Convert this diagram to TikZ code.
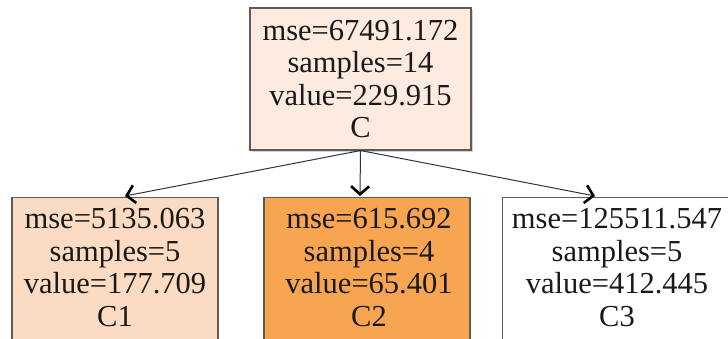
\documentclass[tikz,border=0pt]{standalone}
\usepackage{fontspec}
\setmainfont{Liberation Serif}
\usetikzlibrary{arrows.meta,shadows,calc}
\definecolor{topfill}{HTML}{FDEBDF}
\definecolor{cifill}{HTML}{FBDCC2}
\definecolor{ciifill}{HTML}{F8A552}
\definecolor{edgegray}{HTML}{5E5A58}
\tikzset{
  treetext/.style={align=center, text=black!90, font=\fontsize{30.5}{32.5}\selectfont},
  treebox/.style={draw=edgegray, line width=1.1pt, inner sep=0pt, treetext},
  treearrow/.style={draw=black!80, line width=1pt,
    -{Straight Barb[length=8pt,width=18pt,line width=2.6pt,black]}}
}
\begin{document}
\begin{tikzpicture}[x=1pt,y=-1pt]
\useasboundingbox (0,0) rectangle (728,338);
\clip (0,0) rectangle (728,338);
\node[treebox, fill=topfill, minimum width=221pt, minimum height=142pt,
  drop shadow={opacity=0.35, shadow xshift=1.5pt, shadow yshift=-2pt}]
  (top) at (360.5,79) {mse=67491.172\\samples=14\\value=229.915\\C};
\node[treebox, fill=cifill, minimum width=206pt, minimum height=160pt, anchor=north]
  (c1) at (115,197) {};
\node[treebox, fill=ciifill, minimum width=206pt, minimum height=160pt, anchor=north]
  (c2) at (367,197) {};
\node[treebox, fill=white, minimum width=240pt, minimum height=160pt, anchor=north west]
  (c3) at (502,197) {};
\node[treetext, anchor=north] (t1) at (115,205)
  {mse=5135.063\\samples=5\\value=177.709\\C1};
\node[treetext, anchor=north] (t2) at (369,205)
  {mse=615.692\\samples=4\\value=65.401\\C2};
\node[treetext, anchor=north] (t3) at (617,205)
  {mse=125511.547\\samples=5\\value=412.445\\C3};
\coordinate (e1) at (125,196);
\coordinate (e2) at (360,196);
\coordinate (e3) at (595,196);
\draw[treearrow] (top.south) -- (e1);
\draw[treearrow] (top.south) -- (e2);
\draw[treearrow] (top.south) -- (e3);
\end{tikzpicture}
\end{document}
